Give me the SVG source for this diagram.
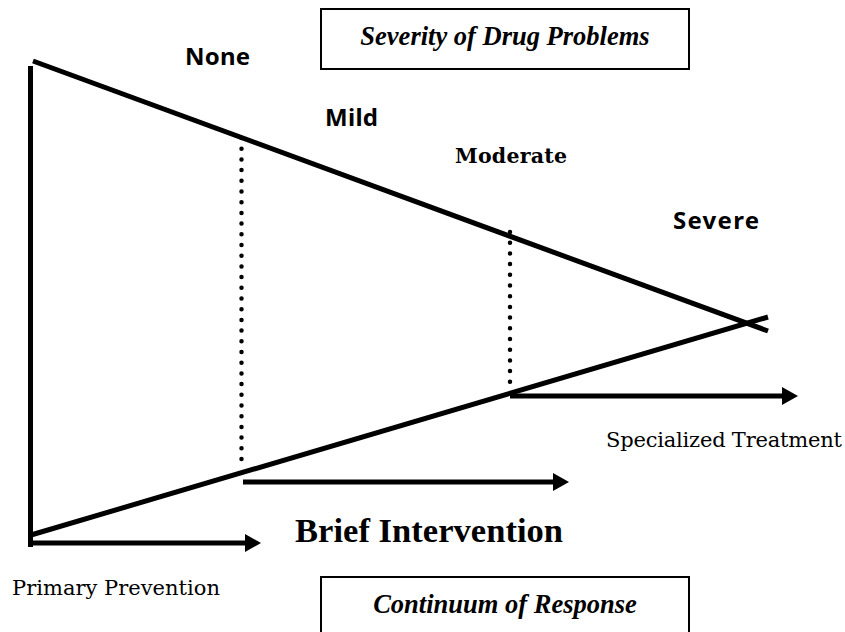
<svg xmlns="http://www.w3.org/2000/svg" width="845" height="632" viewBox="0 0 845 632">
<style>
.bg{fill:#ffffff}
.thick{stroke:#000;stroke-width:5;fill:none}
.dot{stroke:#000;stroke-width:4.5;fill:none;stroke-linecap:round;stroke-dasharray:0 10.7}
.arrow{stroke:#000;stroke-width:5;fill:none;marker-end:url(#head)}
.box{fill:#fff;stroke:#000;stroke-width:2}
.comic{font-family:"Noto Sans","DejaVu Sans",sans-serif;font-weight:bold;font-size:24px;fill:#000}
.pala{font-family:"DejaVu Serif","Liberation Serif",serif;font-size:21px;fill:#000}
.palab{font-family:"DejaVu Serif","Liberation Serif",serif;font-weight:bold;font-size:20.5px;fill:#000}
.title{font-family:"Liberation Serif","Times New Roman",serif;font-weight:bold;font-style:italic;font-size:26.5px;fill:#000}
.big{font-family:"Liberation Serif","Times New Roman",serif;font-weight:bold;font-size:34.5px;fill:#000}
</style>
<defs>
<marker id="head" markerUnits="userSpaceOnUse" markerWidth="18" markerHeight="20" refX="0" refY="9" orient="auto" overflow="visible">
<path d="M0,0 L16,9 L0,18 Z" fill="#000"/>
</marker>
</defs>
<rect class="bg" x="0" y="0" width="845" height="632"/>
<g id="connectors">
<line class="thick" x1="30.5" y1="66" x2="30.5" y2="547"/>
<line class="thick" x1="33" y1="61" x2="768" y2="331"/>
<line class="thick" x1="31" y1="535" x2="768" y2="317"/>
<line class="dot" x1="241.5" y1="138" x2="241.5" y2="460"/>
<line class="dot" x1="510" y1="232" x2="510" y2="383"/>
<line class="arrow" x1="31" y1="543" x2="245" y2="543"/>
<line class="arrow" x1="243" y1="482" x2="553" y2="482"/>
<line class="arrow" x1="510" y1="396" x2="782" y2="396"/>
</g>
<g id="severity-box">
<rect class="box" x="321" y="9" width="368" height="60"/>
<text class="title" x="505" y="45" text-anchor="middle">Severity of Drug Problems</text>
</g>
<g id="none"><text class="comic" x="185" y="65" textLength="65">None</text></g>
<g id="mild"><text class="comic" x="325" y="126" textLength="53">Mild</text></g>
<g id="moderate"><text class="palab" x="455" y="163" textLength="112">Moderate</text></g>
<g id="severe"><text class="comic" x="673" y="229" textLength="86">Severe</text></g>
<g id="specialized"><text class="pala" x="606" y="447" textLength="236">Specialized Treatment</text></g>
<g id="brief"><text class="big" x="295" y="542" textLength="268">Brief Intervention</text></g>
<g id="primary"><text class="pala" x="12" y="595" textLength="208">Primary Prevention</text></g>
<g id="continuum-box">
<rect class="box" x="321" y="577" width="368" height="70"/>
<text class="title" x="505" y="613" text-anchor="middle">Continuum of Response</text>
</g>
</svg>
